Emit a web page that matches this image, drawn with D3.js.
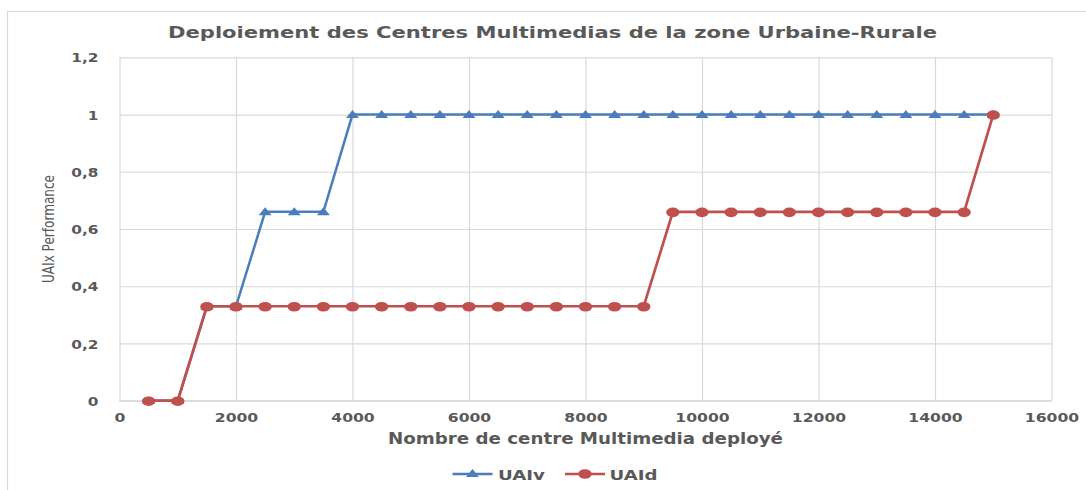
<!DOCTYPE html>
<html><head><meta charset="utf-8">
<script src="https://cdn.jsdelivr.net/npm/d3@7"></script>
<style>
html,body{margin:0;padding:0;background:#fff;}
text{font-family:"DejaVu Sans",Verdana,sans-serif;}
</style></head>
<body><svg id="c" width="1086" height="490"></svg>
<script>
const xValues = [500,1000,1500,2000,2500,3000,3500,4000,4500,5000,5500,6000,6500,7000,7500,8000,8500,9000,9500,10000,10500,11000,11500,12000,12500,13000,13500,14000,14500,15000];
const uaiv = [0,0,0.33,0.33,0.66,0.66,0.66,1,1,1,1,1,1,1,1,1,1,1,1,1,1,1,1,1,1,1,1,1,1,1];
const uaid = [0,0,0.33,0.33,0.33,0.33,0.33,0.33,0.33,0.33,0.33,0.33,0.33,0.33,0.33,0.33,0.33,0.33,0.66,0.66,0.66,0.66,0.66,0.66,0.66,0.66,0.66,0.66,0.66,1];
const xTicks = [0,2000,4000,6000,8000,10000,12000,14000,16000];
const yTicks = [0,0.2,0.4,0.6,0.8,1,1.2];
const yTickLabels = ["0","0,2","0,4","0,6","0,8","1","1,2"];
const seriesNames = ["UAIv","UAId"];
const titleText = "Deploiement des Centres Multimedias de la zone Urbaine-Rurale";
const xTitle = "Nombre de centre Multimedia deployé";
const yTitle = "UAIx Performance";

const svg = d3.select("#c");
const grey = "#595959", grid = "#d9d9d9";
const blue = "#4A7EBB", red = "#C0504D";
const L = 119.5, R = 1051.5, T = 57.3, B = 400.7;
const x = d3.scaleLinear().domain([0,16000]).range([L,R]);
const y = d3.scaleLinear().domain([0,1.2]).range([B,T]);

function stretch(sel, k){
  sel.each(function(){ const w=this.getComputedTextLength(); this.setAttribute("textLength", w*k); this.setAttribute("lengthAdjust","spacingAndGlyphs"); });
}

// chart border
svg.append("rect").attr("x",7.5).attr("y",11.5).attr("width",1200).attr("height",600)
  .attr("fill","none").attr("stroke","#d9d9d9").attr("stroke-width",1.2);

// grid
const gx = svg.append("g").attr("transform",`translate(0,${B})`)
  .call(d3.axisBottom(x).tickValues(xTicks).tickSize(-(B-T)).tickFormat(d=>d));
gx.select(".domain").remove();
gx.selectAll("line").attr("stroke",grid).attr("stroke-width",1.2);
gx.selectAll("text").attr("fill",grey).attr("font-size",13).attr("font-weight","bold").attr("y",21.5).attr("dy",0);
stretch(gx.selectAll("text"),1.2);

const gy = svg.append("g").attr("transform",`translate(${L},0)`)
  .call(d3.axisLeft(y).tickValues(yTicks).tickSize(-(R-L)).tickFormat((d,i)=>yTickLabels[i]));
gy.select(".domain").remove();
gy.selectAll("line").attr("stroke",grid).attr("stroke-width",1.2);
gy.selectAll("text").attr("fill",grey).attr("font-size",13).attr("font-weight","bold").attr("x",-21).attr("dy","0.36em");
stretch(gy.selectAll("text"),1.18);

// bottom axis line
svg.append("line").attr("x1",L).attr("x2",R).attr("y1",B).attr("y2",B).attr("stroke",grid).attr("stroke-width",1.5);

const line = d3.line().x(d=>x(d[0])).y(d=>y(d[1]));
const dv = xValues.map((v,i)=>[v,uaiv[i]]);
const dd = xValues.map((v,i)=>[v,uaid[i]]);
const tri = (cx,cy)=>`M${cx-6.5},${cy+3.4}L${cx},${cy-4.5}L${cx+6.5},${cy+3.4}Z`;

svg.append("path").attr("d",line(dv)).attr("fill","none").attr("stroke",blue).attr("stroke-width",2.5);
svg.selectAll(".tv").data(dv).enter().append("path").attr("d",d=>tri(x(d[0]),y(d[1]))).attr("fill",blue);

svg.append("path").attr("d",line(dd)).attr("fill","none").attr("stroke",red).attr("stroke-width",2.7);
svg.selectAll(".cd").data(dd).enter().append("ellipse").attr("cx",d=>x(d[0])).attr("cy",d=>y(d[1])+0.5)
  .attr("rx",6.7).attr("ry",4.8).attr("fill",red);

// title
svg.append("text").attr("x",552.5).attr("y",38).attr("text-anchor","middle").attr("fill",grey)
  .attr("font-size",15).attr("font-weight","bold").attr("textLength",769).attr("lengthAdjust","spacingAndGlyphs").text(titleText);
// x title
svg.append("text").attr("x",585.5).attr("y",444).attr("text-anchor","middle").attr("fill",grey)
  .attr("font-size",15).attr("font-weight","bold").attr("textLength",395).attr("lengthAdjust","spacingAndGlyphs").text(xTitle);
// y title
svg.append("text").attr("transform","translate(53.5,229) rotate(-90)").attr("text-anchor","middle").attr("fill",grey)
  .attr("font-size",16).style("font-family","'Liberation Sans Narrow','DejaVu Sans Condensed',sans-serif")
  .attr("textLength",108).attr("lengthAdjust","spacingAndGlyphs").text(yTitle);

// legend
const lg = svg.append("g");
const legendItems = [
  {name:seriesNames[0], color:blue, x0:452.5, tx:498, tw:47, marker:"tri"},
  {name:seriesNames[1], color:red, x0:565, tx:609.5, tw:48, marker:"circ"}
];
legendItems.forEach(it=>{
  lg.append("line").attr("x1",it.x0).attr("x2",it.x0+40).attr("y1",474).attr("y2",474).attr("stroke",it.color).attr("stroke-width",2.5);
  if(it.marker==="tri") lg.append("path").attr("d",tri(it.x0+20,473.5)).attr("fill",it.color);
  else lg.append("ellipse").attr("cx",it.x0+20).attr("cy",474).attr("rx",6.7).attr("ry",4.8).attr("fill",it.color);
  lg.append("text").attr("x",it.tx).attr("y",479.5).attr("fill",grey).attr("font-size",14.5).attr("font-weight","bold")
    .attr("textLength",it.tw).attr("lengthAdjust","spacingAndGlyphs").text(it.name);
});
</script></body></html>
